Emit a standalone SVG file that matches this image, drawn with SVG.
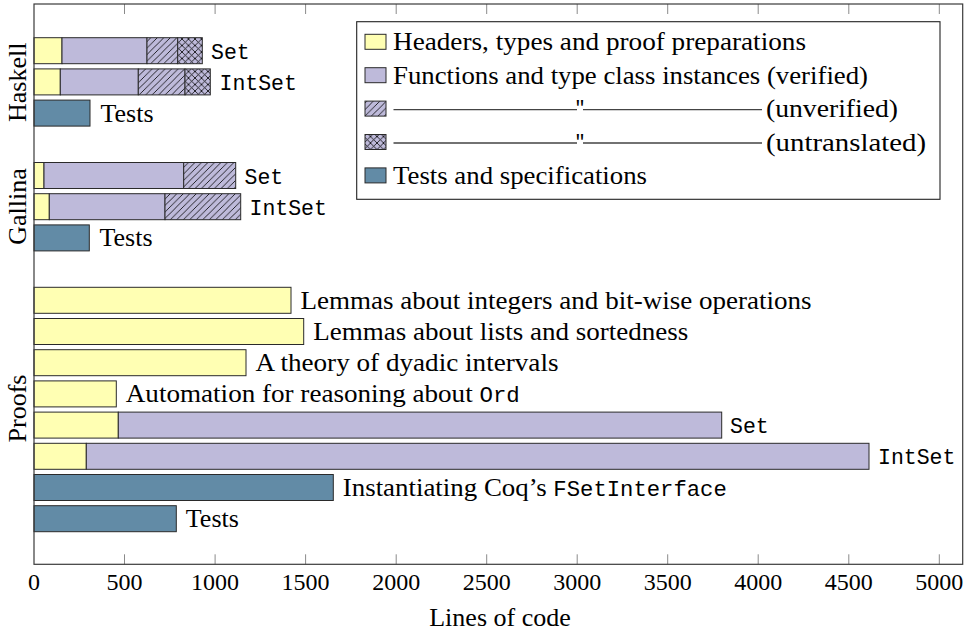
<svg xmlns="http://www.w3.org/2000/svg" width="971" height="634" viewBox="0 0 971 634">
<style>
.serif{font-family:"Liberation Serif","Times New Roman",serif;font-size:26px;fill:#000}
.mono{font-family:"Liberation Mono","Courier New",monospace;font-size:21.5px;fill:#000}
.tick{font-family:"Liberation Serif","Times New Roman",serif;font-size:24px;fill:#000;text-anchor:middle}
.bar rect{stroke:#2a2a2a;stroke-width:1}
.y{fill:#ffffb3}
.p{fill:#bebada}
.h{fill:url(#hatch)}
.x{fill:url(#cross)}
.t{fill:#628ba6}
.tk{stroke:#8a8a8a;stroke-width:1}
</style>
<defs>
<pattern id="hatch" width="6.5" height="6.5" patternUnits="userSpaceOnUse">
<rect width="6.5" height="6.5" fill="#bebada"/>
<path d="M-1,1 L1,-1 M0,6.5 L6.5,0 M5.5,7.5 L7.5,5.5" stroke="#000" stroke-width="0.8"/>
</pattern>
<pattern id="cross" width="6.5" height="6.5" patternUnits="userSpaceOnUse">
<rect width="6.5" height="6.5" fill="#bebada"/>
<path d="M-1,1 L1,-1 M0,6.5 L6.5,0 M5.5,7.5 L7.5,5.5 M-1,5.5 L1,7.5 M0,0 L6.5,6.5 M5.5,-1 L7.5,1" stroke="#000" stroke-width="0.8"/>
</pattern>
</defs>
<rect width="971" height="634" fill="#fff"/>

<g id="axis">
<g class="tk">
<path d="M124.5,4 v10 M215.1,4 v10 M305.6,4 v10 M396.2,4 v10 M486.7,4 v10 M577.2,4 v10 M667.7,4 v10 M758.2,4 v10 M848.8,4 v10 M939.3,4 v10"/>
<path d="M124.5,564.3 v-10 M215.1,564.3 v-10 M305.6,564.3 v-10 M396.2,564.3 v-10 M486.7,564.3 v-10 M577.2,564.3 v-10 M667.7,564.3 v-10 M758.2,564.3 v-10 M848.8,564.3 v-10 M939.3,564.3 v-10"/>
</g>
<g>
<text class="tick" x="34" y="590">0</text>
<text class="tick" x="124.5" y="590">500</text>
<text class="tick" x="215.1" y="590">1000</text>
<text class="tick" x="305.6" y="590">1500</text>
<text class="tick" x="396.2" y="590">2000</text>
<text class="tick" x="486.7" y="590">2500</text>
<text class="tick" x="577.2" y="590">3000</text>
<text class="tick" x="667.7" y="590">3500</text>
<text class="tick" x="758.2" y="590">4000</text>
<text class="tick" x="848.8" y="590">4500</text>
<text class="tick" x="939.3" y="590">5000</text>
</g>
<text class="serif" x="500" y="626" text-anchor="middle">Lines of code</text>
<text class="serif" transform="translate(25.5,82.3) rotate(-90)" text-anchor="middle">Haskell</text>
<text class="serif" transform="translate(25.5,206.5) rotate(-90)" text-anchor="middle">Gallina</text>
<text class="serif" transform="translate(25.5,408.5) rotate(-90)" text-anchor="middle">Proofs</text>
</g>

<g id="haskell-set" class="bar">
<rect class="y" x="34" y="37.7" width="28" height="26"/>
<rect class="p" x="62" y="37.7" width="85" height="26"/>
<rect class="h" x="147" y="37.7" width="30.7" height="26"/>
<rect class="x" x="177.7" y="37.7" width="24.6" height="26"/>
<text class="mono" x="211" y="58.7">Set</text>
</g>
<g id="haskell-intset" class="bar">
<rect class="y" x="34" y="68.9" width="26.3" height="26"/>
<rect class="p" x="60.3" y="68.9" width="78" height="26"/>
<rect class="h" x="138.3" y="68.9" width="46.7" height="26"/>
<rect class="x" x="185" y="68.9" width="25.3" height="26"/>
<text class="mono" x="219.5" y="89.9">IntSet</text>
</g>
<g id="haskell-tests" class="bar">
<rect class="t" x="34" y="100.1" width="56" height="26"/>
<text class="serif" x="100.5" y="121.6">Tests</text>
</g>

<g id="gallina-set" class="bar">
<rect class="y" x="34" y="162.5" width="10" height="26"/>
<rect class="p" x="44" y="162.5" width="139.7" height="26"/>
<rect class="h" x="183.7" y="162.5" width="52" height="26"/>
<text class="mono" x="244.5" y="183.5">Set</text>
</g>
<g id="gallina-intset" class="bar">
<rect class="y" x="34" y="193.7" width="15.3" height="26"/>
<rect class="p" x="49.3" y="193.7" width="115.7" height="26"/>
<rect class="h" x="165" y="193.7" width="75.7" height="26"/>
<text class="mono" x="249.5" y="214.7">IntSet</text>
</g>
<g id="gallina-tests" class="bar">
<rect class="t" x="34" y="224.9" width="55.3" height="26"/>
<text class="serif" x="99.5" y="246.4">Tests</text>
</g>

<g id="proof-integers" class="bar">
<rect class="y" x="34" y="287.3" width="257" height="26"/>
<text class="serif" x="300.5" y="308.8" textLength="511" lengthAdjust="spacingAndGlyphs">Lemmas about integers and bit-wise operations</text>
</g>
<g id="proof-lists" class="bar">
<rect class="y" x="34" y="318.5" width="269.7" height="26"/>
<text class="serif" x="313.2" y="340" textLength="375" lengthAdjust="spacingAndGlyphs">Lemmas about lists and sortedness</text>
</g>
<g id="proof-dyadic" class="bar">
<rect class="y" x="34" y="349.7" width="212" height="26"/>
<text class="serif" x="255.5" y="371.2" textLength="303" lengthAdjust="spacingAndGlyphs">A theory of dyadic intervals</text>
</g>
<g id="proof-ord" class="bar">
<rect class="y" x="34" y="380.9" width="82.3" height="26"/>
<text class="serif" x="125.8" y="402.4" textLength="394" lengthAdjust="spacingAndGlyphs">Automation for reasoning about <tspan class="mono">Ord</tspan></text>
</g>
<g id="proof-set" class="bar">
<rect class="y" x="34" y="412.1" width="84.3" height="26"/>
<rect class="p" x="118.3" y="412.1" width="603.4" height="26"/>
<text class="mono" x="730" y="433.1">Set</text>
</g>
<g id="proof-intset" class="bar">
<rect class="y" x="34" y="443.3" width="52.3" height="26"/>
<rect class="p" x="86.3" y="443.3" width="782.7" height="26"/>
<text class="mono" x="878" y="464.3">IntSet</text>
</g>
<g id="proof-fset" class="bar">
<rect class="t" x="34" y="474.5" width="299.3" height="26"/>
<text class="serif" x="342.8" y="496" textLength="384" lengthAdjust="spacingAndGlyphs">Instantiating Coq’s <tspan class="mono">FSetInterface</tspan></text>
</g>
<g id="proof-tests" class="bar">
<rect class="t" x="34" y="505.7" width="142.3" height="26"/>
<text class="serif" x="185.8" y="527.2">Tests</text>
</g>

<rect id="frame" x="34" y="4" width="928.7" height="560.3" fill="none" stroke="#3a3a3a" stroke-width="1.2"/>

<g id="legend">
<rect x="356.7" y="21.7" width="583.3" height="177.6" fill="#fff" stroke="#222" stroke-width="1.1"/>
<g class="bar">
<rect class="y" x="365" y="34.3" width="21" height="15"/>
<rect class="p" x="365" y="67.7" width="21" height="15"/>
<rect class="h" x="365" y="101.1" width="21" height="15"/>
<rect class="x" x="365" y="134.5" width="21" height="15"/>
<rect class="t" x="365" y="167.9" width="21" height="15"/>
</g>
<text class="serif" x="393" y="50.3" textLength="413" lengthAdjust="spacingAndGlyphs">Headers, types and proof preparations</text>
<text class="serif" x="393" y="83.7" textLength="475" lengthAdjust="spacingAndGlyphs">Functions and type class instances (verified)</text>
<path d="M393.5,109.6 H577 M583,109.6 H762 M393.5,143 H577 M583,143 H762" stroke="#444" stroke-width="1.3" fill="none"/>
<text class="mono" style="font-size:19px" x="580" y="113.3" text-anchor="middle">"</text>
<text class="mono" style="font-size:19px" x="580" y="146.7" text-anchor="middle">"</text>
<text class="serif" x="766" y="117.1" textLength="132" lengthAdjust="spacingAndGlyphs">(unverified)</text>
<text class="serif" x="766" y="150.5" textLength="160" lengthAdjust="spacingAndGlyphs">(untranslated)</text>
<text class="serif" x="393" y="183.9" textLength="254" lengthAdjust="spacingAndGlyphs">Tests and specifications</text>
</g>
</svg>
